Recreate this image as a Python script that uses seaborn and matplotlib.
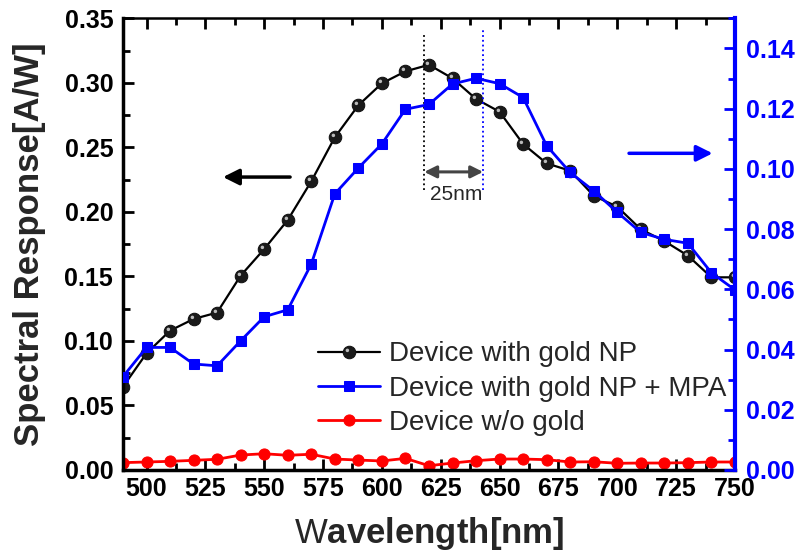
import matplotlib
matplotlib.use("Agg")
import matplotlib.pyplot as plt
from matplotlib.path import Path
from matplotlib.ticker import MultipleLocator, FormatStrFormatter
import seaborn as sns

# ---------------- data ----------------
wavelength = [490, 500, 510, 520, 530, 540, 550, 560, 570, 580, 590, 600, 610, 620,
              630, 640, 650, 660, 670, 680, 690, 700, 710, 720, 730, 740, 750]
resp_gold_np = [0.0645, 0.0904, 0.108, 0.117, 0.122, 0.1506, 0.1712, 0.1937, 0.2237,
                0.2578, 0.2826, 0.2996, 0.3089, 0.3140, 0.3035, 0.2875, 0.2776, 0.2526,
                0.2376, 0.2319, 0.2125, 0.2040, 0.1865, 0.1774, 0.1661, 0.1493, 0.1493]
resp_gold_np_mpa = [0.0310, 0.0407, 0.0407, 0.0352, 0.0346, 0.0429, 0.0509, 0.0532,
                    0.0684, 0.0917, 0.1003, 0.1083, 0.1198, 0.1214, 0.1282, 0.1301,
                    0.1283, 0.1237, 0.1077, 0.0988, 0.0927, 0.0856, 0.0789, 0.0766,
                    0.0753, 0.0655, 0.0598]
resp_no_gold = [0.0057, 0.0062, 0.0067, 0.0075, 0.0083, 0.0116, 0.0126, 0.0114, 0.0122,
                0.0085, 0.0077, 0.0070, 0.0090, 0.0033, 0.0054, 0.0072, 0.0085, 0.0085,
                0.0080, 0.0062, 0.0064, 0.0052, 0.0054, 0.0054, 0.0057, 0.0062, 0.0062]
series_labels = ["Device with gold NP", "Device with gold NP + MPA", "Device w/o gold"]
peak_gold, peak_mpa = 618, 643

# ---------------- style ----------------
sns.set_style("ticks")
plt.rcParams['font.family'] = ['Liberation Sans', 'DejaVu Sans']
plt.rcParams['font.weight'] = 'bold'
plt.rcParams['axes.labelweight'] = 'bold'
plt.rcParams['mathtext.fontset'] = 'custom'
plt.rcParams['mathtext.rm'] = 'Liberation Sans'
plt.rcParams['mathtext.bf'] = 'Liberation Sans:bold'

fig = plt.figure(figsize=(7.98, 5.57), dpi=100)
ax = fig.add_axes([0.1541, 0.1562, 0.7669, 0.8109])
ax2 = ax.twinx()

# highlight marker for "sphere" look
hl_path = Path.make_compound_path(
    Path([(-0.5, -0.5), (0.5, 0.5)], [Path.MOVETO, Path.MOVETO]),
    Path.circle((-0.17, 0.17), 0.14))

sns.lineplot(x=wavelength, y=resp_no_gold, ax=ax, color='#ff0000', lw=2,
             marker='o', markersize=8, markeredgecolor='#ff0000')
red_h = ax.lines[-1]
sns.lineplot(x=wavelength, y=resp_gold_np, ax=ax, color='black', lw=1.6,
             marker='o', markersize=9, markeredgecolor='#111111', markerfacecolor='#1a1a1a')
blk_h = ax.lines[-1]
ax.plot(wavelength, resp_gold_np, linestyle='none', marker=hl_path, markersize=9,
        color='#bbbbbb', markeredgewidth=0)
blk_hl = ax.lines[-1]

sns.lineplot(x=wavelength, y=resp_gold_np_mpa, ax=ax2, color='#0000ff', lw=2,
             marker='s', markersize=7.5, markeredgecolor='#0000ff')
blue_h = ax2.lines[-1]

# annotations
ax.plot([peak_gold, peak_gold], [0.217, 0.338], color='black', ls=':', lw=1.3)
ax.plot([peak_mpa, peak_mpa], [0.217, 0.342], color='blue', ls=':', lw=1.3)
ax.annotate('', xy=(peak_gold, 0.231), xytext=(peak_mpa, 0.231),
            arrowprops=dict(arrowstyle='<|-|>', color='#444444', lw=2.2,
                            mutation_scale=18, shrinkA=0, shrinkB=0))
ax.text((peak_gold + peak_mpa) / 2 + 1, 0.2131, '25nm', ha='center', va='center',
        fontsize=15, fontweight='normal')
ax.annotate('', xy=(532.5, 0.227), xytext=(561, 0.227),
            arrowprops=dict(arrowstyle='-|>', color='black', lw=2.5,
                            mutation_scale=24, shrinkA=0, shrinkB=0))
ax.annotate('', xy=(740.5, 0.2454), xytext=(705, 0.2454),
            arrowprops=dict(arrowstyle='-|>', color='blue', lw=2.5,
                            mutation_scale=24, shrinkA=0, shrinkB=0))

# axes
ax.set_xlim(490, 750)
ax.set_ylim(0, 0.35)
ax2.set_ylim(0, 0.15)
ax.xaxis.set_major_locator(MultipleLocator(25))
ax.xaxis.set_minor_locator(MultipleLocator(12.5))
ax.yaxis.set_major_locator(MultipleLocator(0.05))
ax.yaxis.set_minor_locator(MultipleLocator(0.025))
ax.yaxis.set_major_formatter(FormatStrFormatter('%.2f'))
ax2.yaxis.set_major_locator(MultipleLocator(0.02))
ax2.yaxis.set_minor_locator(MultipleLocator(0.01))
ax2.yaxis.set_major_formatter(FormatStrFormatter('%.2f'))

ax.tick_params(axis='both', which='both', direction='in', top=True, right=False,
               width=2, colors='black', labelsize=18)
ax.tick_params(axis='both', which='major', length=8)
ax.tick_params(axis='both', which='minor', length=5)
ax.tick_params(axis='y', which='major', pad=7)
ax.tick_params(axis='x', which='major', pad=5)
ax2.tick_params(axis='y', which='both', direction='in', width=2, colors='blue',
                labelsize=18, pad=8)
ax2.tick_params(axis='y', which='major', length=8)
ax2.tick_params(axis='y', which='minor', length=5)

for s in ['left', 'bottom']:
    ax.spines[s].set_linewidth(2.5)
    ax.spines[s].set_color('black')
ax.spines['top'].set_linewidth(1.8)
ax.spines['top'].set_color('black')
ax.spines['right'].set_visible(False)
for s in ['left', 'bottom', 'top']:
    ax2.spines[s].set_visible(False)
ax2.spines['right'].set_color('blue')
ax2.spines['right'].set_linewidth(3)

ax.set_xlabel(r'W$\mathbf{avelength[nm]}$', fontsize=25, fontweight='normal', labelpad=10)
ax.set_ylabel('Spectral Response[A/W]', fontsize=25, labelpad=13)
ax2.set_ylabel('')

leg = ax2.legend([(blk_h, blk_hl), blue_h, red_h], series_labels,
                 loc='upper left', bbox_to_anchor=(0.3186, 0.285), frameon=False,
                 prop={'family': 'Liberation Sans', 'weight': 'normal', 'size': 20},
                 handlelength=2.25, handletextpad=0.3, labelspacing=0.3,
                 borderpad=0, borderaxespad=0)

fig.savefig('out.png', dpi=100)
